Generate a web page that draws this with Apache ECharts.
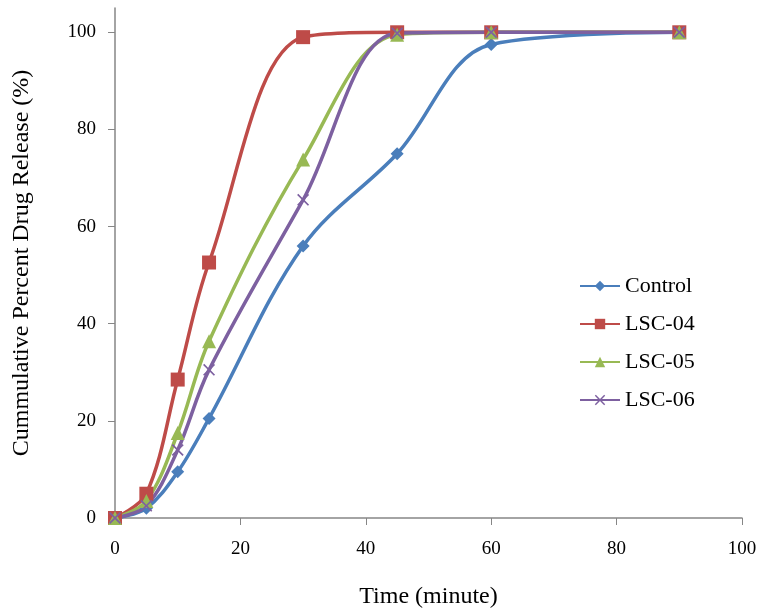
<!DOCTYPE html>
<html><head><meta charset="utf-8">
<script src="https://cdn.jsdelivr.net/npm/echarts@6/dist/echarts.min.js"></script>
<style>html,body{margin:0;padding:0;background:#fff}#c{width:758px;height:609px}</style>
</head><body><div id="c"></div>
<script>
const times = [0, 5, 10, 15, 30, 45, 60, 90];
const control = [0, 2, 9.5, 20.5, 56, 75, 97.5, 100];
const lsc04 = [0, 5, 28.5, 52.6, 99, 100, 100, 100];
const lsc05 = [0, 3.5, 17.5, 36.4, 73.8, 99.5, 100, 100];
const lsc06 = [0, 2.5, 14, 30.5, 65.5, 99.8, 100, 100];
const xTicks = [0, 20, 40, 60, 80, 100];
const yTicks = [0, 20, 40, 60, 80, 100];

const font = 'Liberation Serif';
const axisColor = '#868686';
const xMark = 'path://M0,1L1,0L5,4L9,0L10,1L6,5L10,9L9,10L5,6L1,10L0,9L4,5Z';
function pts(v){ return times.map((t,i)=>[t, v[i]]); }
function mk(name, data, color, symbol, size){
  return { name, type:'line', data: pts(data), smooth: 0.35, symbol, symbolSize: size,
    lineStyle:{ color, width:3.5 }, itemStyle:{ color }, clip:false };
}
const chart = echarts.init(document.getElementById('c'));
chart.setOption({
  animation:false,
  grid:{ left:115, right:16, top:8, bottom:91, containLabel:false, outerBoundsMode:'none' },
  legend:{ orient:'vertical', left:574, top:270, itemGap:16, itemWidth:40, itemHeight:13,
    textStyle:{ fontFamily:font, fontSize:22, color:'#000' },
    data:['Control','LSC-04','LSC-05','LSC-06'] },
  xAxis:{ type:'value', min:0, max:100, interval:20,
    name:'Time (minute)', nameLocation:'middle', nameGap:67,
    nameTextStyle:{ fontFamily:font, fontSize:24, color:'#000' },
    axisLine:{ lineStyle:{ color:axisColor, width:1.5 } },
    axisTick:{ show:true, length:7, lineStyle:{ color:axisColor } , customValues:xTicks},
    axisLabel:{ fontFamily:font, fontSize:19, color:'#000', margin:22, customValues:xTicks },
    splitLine:{ show:false } },
  yAxis:{ type:'value', min:0, max:105, interval:20,
    name:'Cummulative Percent Drug Release (%)', nameLocation:'middle', nameGap:81, nameRotate:90,
    nameTextStyle:{ fontFamily:font, fontSize:24, color:'#000' },
    axisLine:{ show:true, lineStyle:{ color:axisColor, width:1.5 } },
    axisTick:{ show:true, length:7, lineStyle:{ color:axisColor }, customValues:yTicks },
    axisLabel:{ fontFamily:font, fontSize:19, color:'#000', margin:19, customValues:yTicks },
    splitLine:{ show:false } },
  series:[
    mk('Control', control, '#4A7EBB', 'diamond', 13),
    mk('LSC-04', lsc04, '#BE4B48', 'rect', 14),
    mk('LSC-05', lsc05, '#98B954', 'triangle', 14),
    mk('LSC-06', lsc06, '#7D60A0', xMark, 12)
  ]
});
</script></body></html>
